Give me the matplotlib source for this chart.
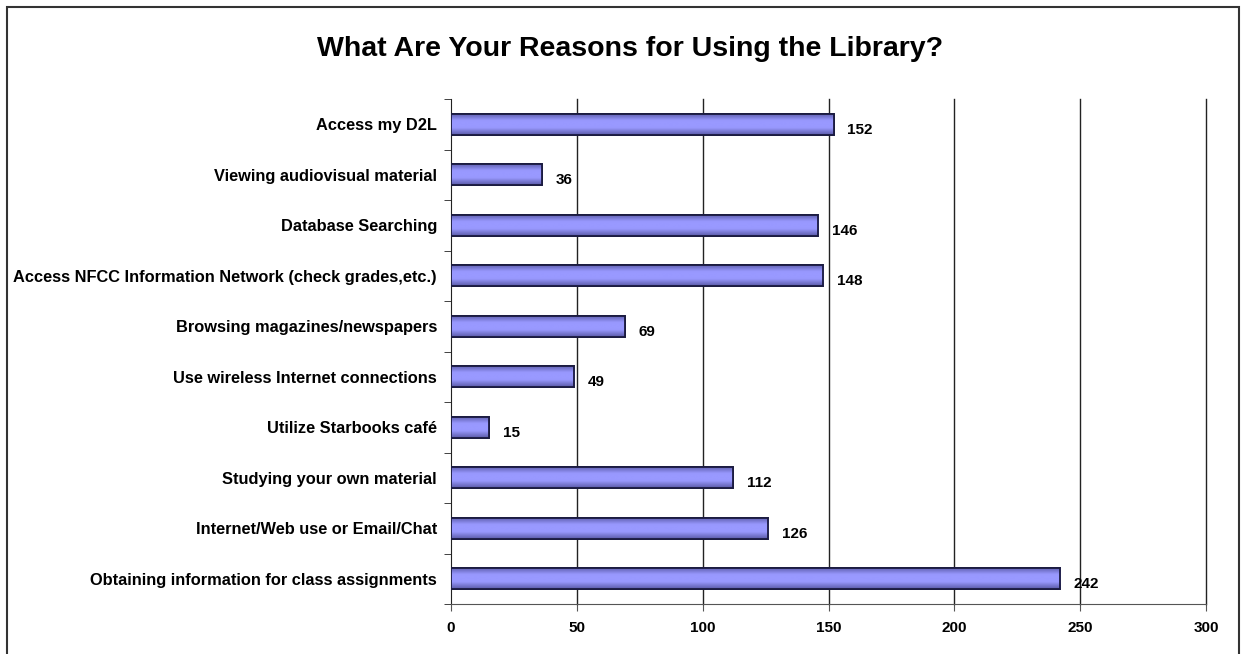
import numpy as np
import matplotlib.pyplot as plt
from matplotlib.colors import LinearSegmentedColormap
from matplotlib.patches import Rectangle

plt.rcParams['font.family'] = ['Liberation Sans', 'DejaVu Sans']

# data (top to bottom as in the chart)
reasons = [
    'Access my D2L',
    'Viewing audiovisual material',
    'Database Searching',
    'Access NFCC Information Network (check grades,etc.)',
    'Browsing magazines/newspapers',
    'Use wireless Internet connections',
    'Utilize Starbooks café',
    'Studying your own material',
    'Internet/Web use or Email/Chat',
    'Obtaining information for class assignments',
]
counts = [152, 36, 146, 148, 69, 49, 15, 112, 126, 242]
xticks = [0, 50, 100, 150, 200, 250, 300]

fig = plt.figure(figsize=(12.42, 6.54), dpi=100)
ax = fig.add_axes([451 / 1242, 1 - 604 / 654, (1206 - 451) / 1242, (604 - 99) / 654])

# outer frame of the chart (bottom edge is cut off)
fig.patches.append(Rectangle((7 / 1242, -0.05), (1239 - 7) / 1242, 1 - 7 / 654 + 0.05,
                             transform=fig.transFigure, fill=False,
                             edgecolor='#333333', linewidth=1.5))

n = len(reasons)
ypos = np.arange(n)[::-1]

ax.set_axisbelow(True)
for t in xticks[1:]:
    ax.axvline(t, color='#222222', linewidth=1, zorder=1, clip_on=False)

bars = ax.barh(ypos, counts, height=0.42, color='#9999ff',
               edgecolor='#1a1a40', linewidth=1.3, zorder=3)

# shaded fill, dark at top and bottom edge, light in the middle
cmap = LinearSegmentedColormap.from_list('shade', ['#5a5aa8', '#9999ff', '#9999ff', '#5a5aa8'])
grad = np.linspace(0, 1, 64).reshape(-1, 1)
for b in bars:
    x0, y0 = b.get_x(), b.get_y()
    im = ax.imshow(grad, extent=[x0, x0 + b.get_width(), y0, y0 + b.get_height()],
                   aspect='auto', cmap=cmap, zorder=3.5, interpolation='bicubic')
    im.set_clip_path(b)
    edge = Rectangle((x0, y0), b.get_width(), b.get_height(), fill=False,
                     edgecolor='#1a1a40', linewidth=1.3, zorder=4)
    ax.add_patch(edge)

for y, v in zip(ypos, counts):
    ax.annotate(str(v), (v, y), xytext=(10, -4), textcoords='offset points',
                ha='left', va='center', fontsize=11, fontweight='bold', zorder=5)

ax.set_xlim(0, 300)
ax.set_ylim(-0.5, n - 0.5)
ax.set_xticks(xticks)
ax.set_xticklabels([str(t) for t in xticks], fontsize=11, fontweight='bold')
ax.set_yticks(ypos)
ax.set_yticklabels(reasons, fontsize=11.8, fontweight='bold')
ax.tick_params(axis='y', length=0, pad=10)
ax.set_yticks(np.arange(n + 1) - 0.5, minor=True)
ax.tick_params(axis='y', which='minor', length=5, color='#222222')
ax.tick_params(axis='x', length=5, color='#555555', pad=7)

ax.spines['top'].set_visible(False)
ax.spines['right'].set_visible(False)
ax.spines['bottom'].set_color('#555555')
ax.spines['left'].set_color('#222222')

fig.text(0.507, 1 - 49 / 654, 'What Are Your Reasons for Using the Library?',
         ha='center', va='center', fontsize=20.5, fontweight='bold')

fig.savefig('out.png', dpi=100)
